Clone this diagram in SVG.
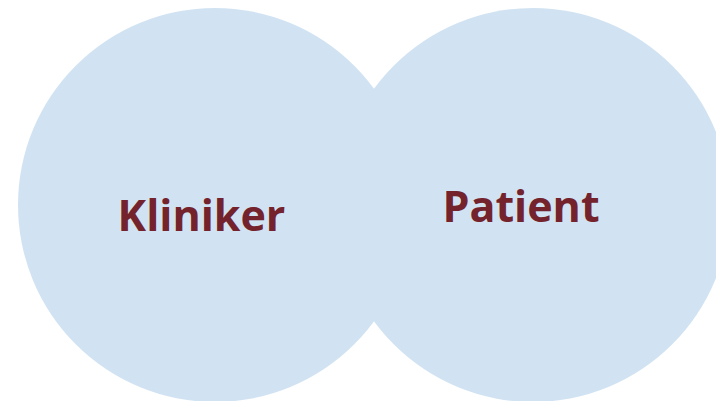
<svg xmlns="http://www.w3.org/2000/svg" width="716" height="401" viewBox="0 0 716 401">
<style>
.c{fill:#D1E3F2}
.t{font-family:"Open Sans","Liberation Sans",sans-serif;font-weight:700;font-size:43px;fill:#74232C;text-anchor:middle}
</style>
<rect width="716" height="401" fill="#FFFFFF"/>
<g id="kliniker">
<circle class="c" cx="215" cy="205" r="197"/>
<text class="t" x="201.5" y="231">Kliniker</text>
</g>
<g id="patient">
<circle class="c" cx="533" cy="205" r="197"/>
<text class="t" x="521" y="222">Patient</text>
</g>
<g id="connectors"></g>
</svg>
